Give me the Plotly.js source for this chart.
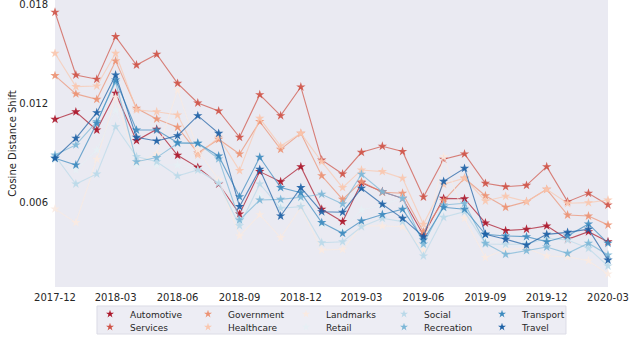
<!DOCTYPE html>
<html>
<head>
<meta charset="utf-8">
<script src="https://cdn.plot.ly/plotly-3.0.1.min.js"></script>
<style>
html,body{margin:0;padding:0;background:#fff;}
#chart{width:640px;height:350px;}
</style>
</head>
<body>
<div id="chart"></div>
<script>
const months = ["2017-12","2018-01","2018-02","2018-03","2018-04","2018-05","2018-06","2018-07","2018-08","2018-09","2018-10","2018-11","2018-12","2019-01","2019-02","2019-03","2019-04","2019-05","2019-06","2019-07","2019-08","2019-09","2019-10","2019-11","2019-12","2020-01","2020-02","2020-03"];

const automotive = [0.01107,0.01152,0.01042,0.01265,0.00978,0.01047,0.00889,0.00816,0.00715,0.00533,0.00790,0.00729,0.00820,0.00562,0.00487,0.00723,0.00668,0.00628,0.00406,0.00628,0.00626,0.00479,0.00433,0.00441,0.00461,0.00380,0.00426,0.00365];
const services = [0.01756,0.01376,0.01350,0.01608,0.01436,0.01501,0.01325,0.01206,0.01158,0.00998,0.01256,0.01129,0.01303,0.00861,0.00776,0.00907,0.00944,0.00912,0.00636,0.00865,0.00897,0.00719,0.00699,0.00707,0.00820,0.00608,0.00659,0.00588];
const government = [0.01372,0.01261,0.01228,0.01461,0.01174,0.01109,0.01059,0.00903,0.00986,0.00897,0.01093,0.00925,0.01022,0.00765,0.00622,0.00729,0.00665,0.00659,0.00426,0.00614,0.00750,0.00644,0.00574,0.00608,0.00683,0.00527,0.00521,0.00467];
const healthcare = [0.01507,0.01305,0.01309,0.01507,0.01164,0.01153,0.01133,0.00891,0.00998,0.00796,0.01113,0.00945,0.01022,0.00850,0.00693,0.00800,0.00790,0.00750,0.00471,0.00713,0.00750,0.00612,0.00641,0.00608,0.00683,0.00598,0.00602,0.00618];
const landmarks = [0.00564,0.00481,0.00865,0.01242,0.00842,0.00897,0.01285,0.00921,0.00739,0.00400,0.00529,0.00390,0.00574,0.00315,0.00319,0.00461,0.00461,0.00456,0.00315,0.00881,0.00507,0.00270,0.00319,0.00325,0.00279,0.00274,0.00250,0.00170];
const retail = [0.00861,0.00800,0.00921,0.01164,0.00830,0.00830,0.00830,0.00800,0.00727,0.00485,0.00648,0.00588,0.00618,0.00467,0.00436,0.00558,0.00588,0.00630,0.00345,0.00558,0.00570,0.00376,0.00345,0.00364,0.00388,0.00376,0.00376,0.00242];
const social = [0.00885,0.00715,0.00776,0.01062,0.00881,0.00850,0.00764,0.00800,0.00719,0.00462,0.00715,0.00568,0.00578,0.00359,0.00365,0.00456,0.00507,0.00487,0.00279,0.00513,0.00547,0.00351,0.00350,0.00350,0.00386,0.00376,0.00325,0.00218];
const recreation = [0.00891,0.00952,0.01093,0.01333,0.00850,0.00875,0.00962,0.00962,0.00867,0.00497,0.00618,0.00622,0.00635,0.00653,0.00594,0.00774,0.00668,0.00628,0.00351,0.00588,0.00598,0.00356,0.00289,0.00311,0.00333,0.00295,0.00356,0.00285];
const transport = [0.00871,0.00830,0.01083,0.01345,0.01042,0.01042,0.00965,0.00962,0.00885,0.00638,0.00877,0.00693,0.00662,0.00481,0.00416,0.00491,0.00530,0.00562,0.00376,0.00574,0.00562,0.00410,0.00400,0.00396,0.00365,0.00400,0.00473,0.00356];
const travel = [0.00871,0.00992,0.01147,0.01376,0.00998,0.00976,0.01008,0.01129,0.01022,0.00578,0.00804,0.00521,0.00693,0.00547,0.00544,0.00689,0.00592,0.00507,0.00396,0.00731,0.00810,0.00410,0.00380,0.00345,0.00410,0.00422,0.00441,0.00254];

const seriesNames = ["Automotive","Services","Government","Healthcare","Landmarks","Retail","Social","Recreation","Transport","Travel"];
const seriesValues = [automotive,services,government,healthcare,landmarks,retail,social,recreation,transport,travel];
const seriesColors = ["#ab162a","#cf5347","#ec9273","#fac7ae","#faeae1","#e6eff4","#bad9e9","#7cb7d7","#3d8bbf","#1e61a5"];

const yTickVals = [0.006, 0.012, 0.018];
const yTickText = ["0.006", "0.012", "0.018"];
const xTickVals = ["2017-12","2018-03","2018-06","2018-09","2018-12","2019-03","2019-06","2019-09","2019-12","2020-03"];

function hexA(hex, a){
  const r = parseInt(hex.slice(1,3),16), g = parseInt(hex.slice(3,5),16), b = parseInt(hex.slice(5,7),16);
  return `rgba(${r},${g},${b},${a})`;
}

const traces = [];
seriesNames.forEach((name, i) => {
  traces.push({
    x: months, y: seriesValues[i], name: name, type: 'scatter', mode: 'lines+markers',
    line: {color: hexA(seriesColors[i], 0.72), width: 1.1},
    marker: {symbol: 'star', size: 7, color: hexA(seriesColors[i], 0.9), line: {width: 0}},
    showlegend: false, cliponaxis: false, hoverinfo: 'skip'
  });
});
// legend entries, laid out row by row (column-major order as in the reference)
const row1 = [0,2,4,6,8], row2 = [1,3,5,7,9];
[[row1,'legend'],[row2,'legend2']].forEach(([row, lg]) => {
  row.forEach(i => {
    traces.push({
      x: [null], y: [null], name: seriesNames[i], type: 'scatter', mode: 'markers',
      marker: {symbol: 'star', size: 6, color: seriesColors[i]},
      legend: lg, showlegend: true, hoverinfo: 'skip'
    });
  });
});

const legendCommon = {
  orientation: 'h', xanchor: 'left', yanchor: 'middle', x: 0.0633,
  bgcolor: 'rgba(0,0,0,0)', borderwidth: 0,
  font: {family: 'DejaVu Sans', size: 9, color: '#262626'},
  entrywidth: 53, entrywidthmode: 'pixels', itemwidth: 30, traceorder: 'normal'
};

const layout = {
  width: 640, height: 350,
  margin: {l: 55, r: 32, t: 0, b: 63, pad: 0},
  paper_bgcolor: '#ffffff', plot_bgcolor: '#eaeaf2',
  font: {family: 'DejaVu Sans', size: 10, color: '#262626'},
  xaxis: {
    type: 'date', range: ['2017-12-01', '2020-03-01'],
    tickvals: xTickVals, tickformat: '%Y-%m', ticks: '', showgrid: false, zeroline: false,
    showline: false, ticklabelstandoff: 3, tickfont: {size: 10, color: '#262626'}
  },
  yaxis: {
    range: [0.000908, 0.0183], tickvals: yTickVals, ticktext: yTickText, ticks: '',
    showgrid: false, zeroline: false, showline: false, ticklabelstandoff: 6,
    ticklabeloverflow: 'allow',
    tickfont: {size: 10, color: '#262626'},
    title: {text: 'Cosine Distance Shift', standoff: 0, font: {size: 10, color: '#262626'}}
  },
  legend: Object.assign({}, legendCommon, {y: -0.0941}),
  legend2: Object.assign({}, legendCommon, {y: -0.1394}),
  shapes: [{
    type: 'rect', xref: 'paper', yref: 'paper', layer: 'below',
    x0: 0.0759, x1: 0.924, y0: -0.1638, y1: -0.0662,
    fillcolor: 'rgba(234,234,242,0.85)', line: {color: '#dcdce6', width: 1}
  }],
  showlegend: true
};

Plotly.newPlot('chart', traces, layout, {displayModeBar: false, staticPlot: true});
</script>
</body>
</html>
